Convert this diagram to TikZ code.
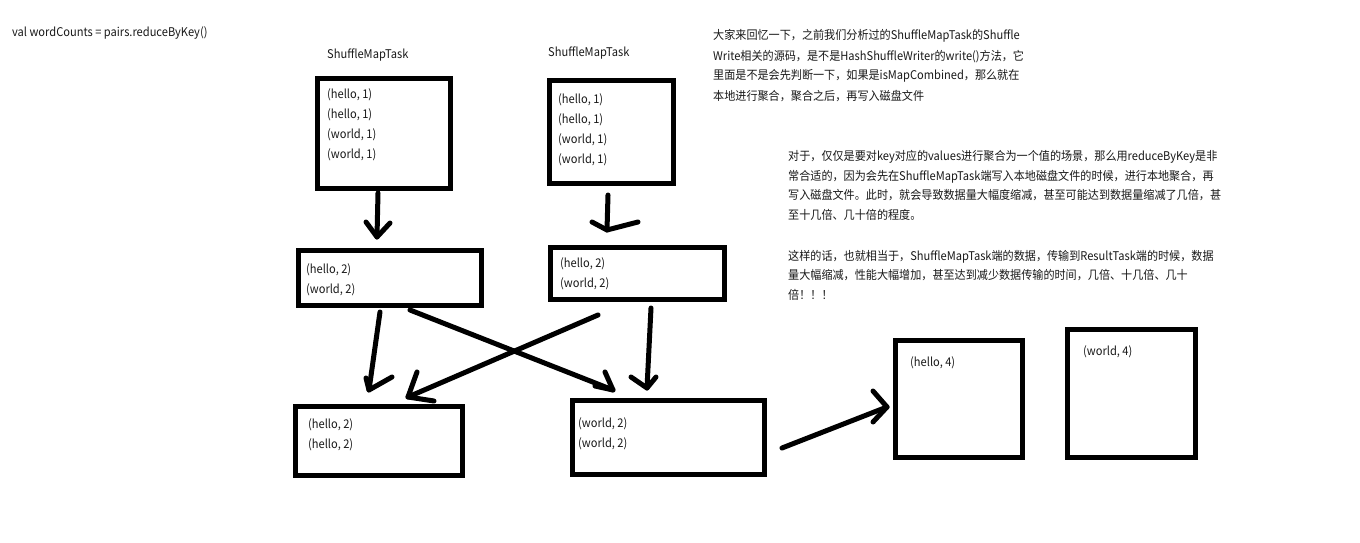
\documentclass[tikz,border=0pt]{standalone}
\usepackage{fontspec}
\newfontfamily\cjk[FakeStretch=0.925]{Noto Sans CJK SC}
\begin{document}
\begin{tikzpicture}[x=1pt,y=-1pt,
  box/.style={draw=black,line width=5pt,inner sep=0pt,outer sep=0pt},
  txt/.style={font=\cjk\fontsize{12}{14}\selectfont,anchor=west,inner sep=0pt,text height=11pt,text depth=1pt,text=black!90},
  hand/.style={draw=black,line width=5pt,line cap=round,line join=round}]
\fill[white] (0,0) rectangle (1360,543);
\useasboundingbox (0,0) rectangle (1360,543);
% boxes
\node[box,minimum width=133pt,minimum height=110pt] (A) at (384,133.5) {};
\node[box,minimum width=124pt,minimum height=103pt] (B) at (611.5,132) {};
\node[box,minimum width=183pt,minimum height=55pt] (C) at (390,278) {};
\node[box,minimum width=174pt,minimum height=52pt] (D) at (637.5,273.5) {};
\node[box,minimum width=167pt,minimum height=69pt] (E) at (379,441) {};
\node[box,minimum width=192pt,minimum height=74pt] (F) at (668.5,437.5) {};
\node[box,minimum width=127pt,minimum height=117pt] (G) at (959,399) {};
\node[box,minimum width=128pt,minimum height=128pt] (H) at (1131.5,393.5) {};
% labels
\node[txt] (code) at (12,32) {val wordCounts = pairs.reduceByKey()};
\node[txt] (tA) at (327,54) {ShuffleMapTask};
\node[txt] (tB) at (548,52) {ShuffleMapTask};
\node[txt] (A1) at (327,93) {(hello, 1)};
\node[txt] (A2) at (327,113) {(hello, 1)};
\node[txt] (A3) at (327,133) {(world, 1)};
\node[txt] (A4) at (327,153) {(world, 1)};
\node[txt] (B1) at (558,98) {(hello, 1)};
\node[txt] (B2) at (558,118) {(hello, 1)};
\node[txt] (B3) at (558,138) {(world, 1)};
\node[txt] (B4) at (558,158) {(world, 1)};
\node[txt] (C1) at (306,268) {(hello, 2)};
\node[txt] (C2) at (306,288) {(world, 2)};
\node[txt] (D1) at (560,262) {(hello, 2)};
\node[txt] (D2) at (560,282) {(world, 2)};
\node[txt] (E1) at (308,423) {(hello, 2)};
\node[txt] (E2) at (308,443) {(hello, 2)};
\node[txt] (F1) at (578,422) {(world, 2)};
\node[txt] (F2) at (578,442) {(world, 2)};
\node[txt] (G1) at (910,361) {(hello, 4)};
\node[txt] (H1) at (1083,350) {(world, 4)};
% note 1
\node[txt] (n11) at (713,35) {大家来回忆一下，之前我们分析过的ShuffleMapTask的Shuffle};
\node[txt] (n12) at (713,55) {Write相关的源码，是不是HashShuffleWriter的write()方法，它};
\node[txt] (n13) at (713,75) {里面是不是会先判断一下，如果是isMapCombined，那么就在};
\node[txt] (n14) at (713,95) {本地进行聚合，聚合之后，再写入磁盘文件};
% note 2
\node[txt] (n21) at (788,155) {对于，仅仅是要对key对应的values进行聚合为一个值的场景，那么用reduceByKey是非};
\node[txt] (n22) at (788,175) {常合适的，因为会先在ShuffleMapTask端写入本地磁盘文件的时候，进行本地聚合，再};
\node[txt] (n23) at (788,194) {写入磁盘文件。此时，就会导致数据量大幅度缩减，甚至可能达到数据量缩减了几倍，甚};
\node[txt] (n24) at (788,214) {至十几倍、几十倍的程度。};
\node[txt] (n31) at (788,255) {这样的话，也就相当于，ShuffleMapTask端的数据，传输到ResultTask端的时候，数据};
\node[txt] (n32) at (788,274) {量大幅缩减，性能大幅增加，甚至达到减少数据传输的时间，几倍、十几倍、几十};
\node[txt] (n33) at (788,294) {倍！！！};
% arrow coordinates
\coordinate (a1s) at (378,193); \coordinate (a1t) at (377,237);
\coordinate (a1l) at (366,222); \coordinate (a1r) at (390,223);
\coordinate (a2s) at (608,195); \coordinate (a2t) at (607,230);
\coordinate (a2l) at (592,222); \coordinate (a2r) at (638,222);
\coordinate (a3s) at (380,312); \coordinate (a3t) at (369,390);
\coordinate (a3l) at (366,378); \coordinate (a3r) at (392,377);
\coordinate (a4s) at (410,310); \coordinate (a4t) at (613,390);
\coordinate (a4l) at (605,372); \coordinate (a4r) at (595,386);
\coordinate (a5s) at (598,315); \coordinate (a5t) at (408,397);
\coordinate (a5l) at (417,372); \coordinate (a5r) at (434,401);
\coordinate (a6s) at (651,308); \coordinate (a6t) at (647,388);
\coordinate (a6l) at (631,377); \coordinate (a6r) at (656,377);
\coordinate (a7s) at (782,448); \coordinate (a7t) at (887,407);
\coordinate (a7l) at (873,391); \coordinate (a7r) at (873,422);
% arrows
\draw[hand] (a1s) -- (a1t); \draw[hand] (a1l) -- (a1t) -- (a1r);
\draw[hand] (a2s) -- (a2t); \draw[hand] (a2l) -- (a2t) -- (a2r);
\draw[hand] (a3s) -- (a3t); \draw[hand] (a3l) -- (a3t) -- (a3r);
\draw[hand] (a4s) -- (a4t); \draw[hand] (a4l) -- (a4t) -- (a4r);
\draw[hand] (a5s) -- (a5t); \draw[hand] (a5l) -- (a5t) -- (a5r);
\draw[hand] (a6s) -- (a6t); \draw[hand] (a6l) -- (a6t) -- (a6r);
\draw[hand] (a7s) -- (a7t); \draw[hand] (a7l) -- (a7t) -- (a7r);
\end{tikzpicture}
\end{document}
